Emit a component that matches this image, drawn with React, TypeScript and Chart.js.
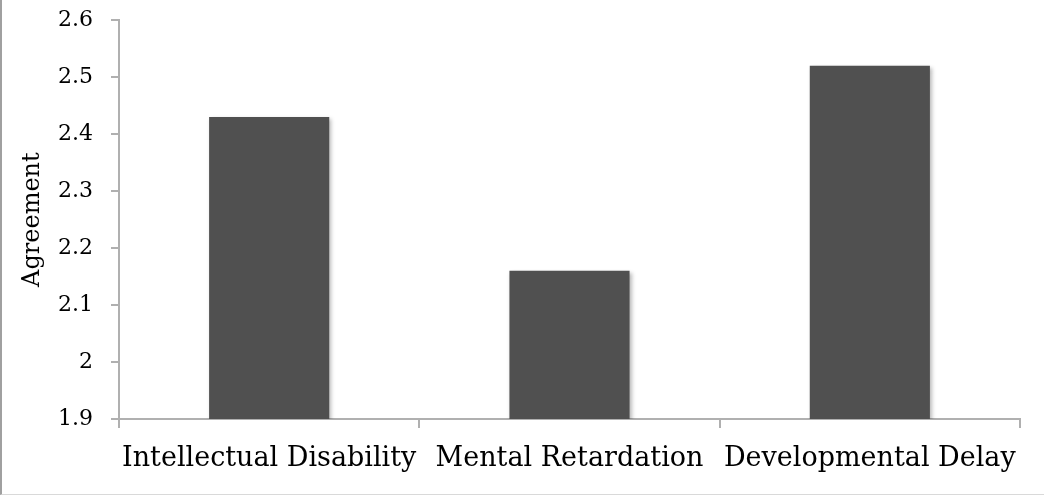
import React, { useEffect, useRef } from "react";
import { Chart, registerables } from "chart.js";

Chart.register(...registerables);

const categories = ["Intellectual Disability", "Mental Retardation", "Developmental Delay"];
const agreementValues = [2.43, 2.16, 2.52];
const yMin = 1.9;
const yMax = 2.6;
const yStep = 0.1;

const FONT = "'DejaVu Serif', serif";
const AXIS_GREY = "#b0b0b0";
const TOP_TRIM = 11;

// Soft drop shadow behind the bars
const barShadow = {
  id: "barShadow",
  beforeDatasetsDraw(chart: any) {
    const ctx = chart.ctx;
    ctx.save();
    ctx.shadowColor = "rgba(0,0,0,0.28)";
    ctx.shadowBlur = 4;
    ctx.shadowOffsetX = 2;
    ctx.shadowOffsetY = 2;
  },
  afterDatasetsDraw(chart: any) {
    chart.ctx.restore();
  },
};

export default function App() {
  const canvasRef = useRef<HTMLCanvasElement | null>(null);

  useEffect(() => {
    if (!canvasRef.current) return;
    const chart = new Chart(canvasRef.current, {
      type: "bar",
      data: {
        labels: categories,
        datasets: [
          {
            data: agreementValues,
            backgroundColor: "#505050",
            borderWidth: 0,
            barPercentage: 0.4,
            categoryPercentage: 1,
          },
        ],
      },
      plugins: [barShadow],
      options: {
        animation: false,
        responsive: false,
        maintainAspectRatio: false,
        layout: { padding: { left: 0, top: 8, right: 24, bottom: 0 } },
        plugins: {
          legend: { display: false },
          tooltip: { enabled: false },
        },
        scales: {
          x: {
            offset: true,
            grid: {
              offset: true,
              drawOnChartArea: false,
              drawTicks: true,
              tickLength: 9,
              color: AXIS_GREY,
              lineWidth: 2,
            },
            border: { display: true, color: AXIS_GREY, width: 2 },
            ticks: {
              color: "#000",
              padding: 15,
              font: { family: FONT, size: 27 },
              maxRotation: 0,
              autoSkip: false,
            },
            afterFit(scale: any) {
              scale.height = 75;
            },
          },
          y: {
            min: yMin,
            max: yMax,
            grid: {
              drawOnChartArea: false,
              drawTicks: true,
              tickLength: 8,
              color: AXIS_GREY,
              lineWidth: 2,
            },
            border: { display: true, color: AXIS_GREY, width: 2 },
            ticks: {
              stepSize: yStep,
              color: "#000",
              padding: 18,
              font: { family: FONT, size: 22 },
              callback: (v: any) => String(Math.round(Number(v) * 10) / 10),
            },
            title: {
              display: true,
              text: "Agreement",
              color: "#000",
              font: { family: FONT, size: 24 },
              padding: { top: 16, bottom: 0 },
            },
            afterFit(scale: any) {
              scale.width = 117;
            },
          },
        },
      },
    });
    return () => chart.destroy();
  }, []);

  return (
    <div
      style={{
        position: "fixed",
        left: 0,
        top: 0,
        width: 1044,
        height: 495,
        boxSizing: "border-box",
        overflow: "hidden",
        borderLeft: "2px solid #a0a0a0",
        borderBottom: "1px solid #d9d9d9",
        background: "#fff",
      }}
    >
      <canvas
        ref={canvasRef}
        width={1042}
        height={494 + TOP_TRIM}
        style={{ display: "block", marginTop: -TOP_TRIM }}
      />
    </div>
  );
}
